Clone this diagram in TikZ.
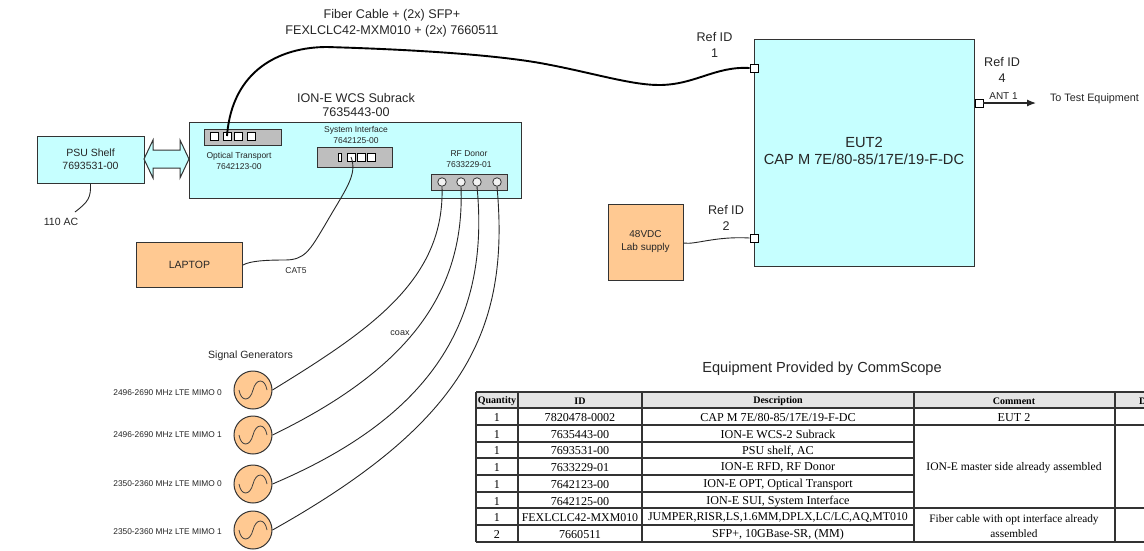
\documentclass[tikz,border=0pt]{standalone}
\usepackage{fontspec}
\setmainfont{Liberation Sans}
\newfontfamily\tabfont{Liberation Serif}
\usepackage{xcolor}
\usepackage{tikz}
\usetikzlibrary{arrows.meta}
\definecolor{unitcyan}{HTML}{C6FFFF}
\definecolor{supplyorange}{HTML}{FFC992}
\definecolor{cardgray}{HTML}{BEBEBE}
\definecolor{headgray}{HTML}{E4E4E4}
\newcommand{\txt}[1]{\fontsize{#1}{#1}\selectfont}
\tikzset{
  thunit/.style={fill=unitcyan, draw=black!80, line width=1pt},
  thsupply/.style={fill=supplyorange, draw=black!80, line width=1pt},
  thcard/.style={fill=cardgray, draw=black!80, line width=1pt},
  thport/.style={fill=white, draw=black, line width=0.8pt, minimum size=8pt, inner sep=0pt},
  thjack/.style={circle, fill=white!80!cardgray, draw=black!80, line width=0.8pt, minimum size=8.5pt, inner sep=0pt},
  thgen/.style={circle, fill=supplyorange, draw=black!80, line width=1pt, minimum size=38pt, inner sep=0pt},
  thwave/.style={line width=0.8pt, draw=black!75},
  thfiber/.style={line width=1.9pt, draw=black},
  thcable/.style={line width=0.9pt, draw=black!85},
  thrule/.style={line width=1.2pt, draw=black!80},
  thlabel/.style={inner sep=0pt, align=center, text=black!85, font=\txt{12.6}},
  thsmall/.style={inner sep=0pt, align=center, text=black!85, font=\txt{8.5}},
  thcell/.style={inner sep=0pt, yshift=-0.8pt, align=center, text=black, font=\tabfont\txt{12.1}},
  thhead/.style={inner sep=0pt, yshift=-0.8pt, align=center, text=black, font=\tabfont\bfseries\txt{10}},
}
\begin{document}
\begin{tikzpicture}[x=1pt,y=-1pt]
\clip (0,0) rectangle (1144,550);
\fill[white] (0,0) rectangle (1144,550);
% boxes
\node[thunit, minimum width=107pt, minimum height=47pt, inner sep=0pt] (psu) at (90.5,160) {};
\node[thunit, minimum width=332pt, minimum height=76pt, inner sep=0pt] (subrack) at (355,160) {};
\node[thunit, minimum width=220pt, minimum height=227pt, inner sep=0pt] (eut) at (864,152.5) {};
\node[thsupply, minimum width=106pt, minimum height=45pt, inner sep=0pt] (laptop) at (189.5,265) {};
\node[thsupply, minimum width=75pt, minimum height=76pt, inner sep=0pt] (lab) at (645.5,242) {};
\node[thlabel, font=\txt{10.5}] at (90.5,159) {PSU Shelf\\[2pt]7693531-00};
\node[thlabel, font=\txt{10.5}] at (laptop) {LAPTOP};
\node[thlabel, font=\txt{10}] at (lab) {48VDC\\[3pt]Lab supply};
\node[thlabel, font=\txt{14.65}] at (864,151) {EUT2\\[2pt]CAP M 7E/80-85/17E/19-F-DC};
% power arrow
\draw[thunit] (144,159) -- (153,140) -- (153,150) -- (180,150) -- (180,140) -- (189,159)
  -- (180,178) -- (180,168) -- (153,168) -- (153,178) -- cycle;
% cards
\node[thcard, minimum width=77pt, minimum height=16pt, inner sep=0pt] (optcard) at (242.5,137) {};
\node[thcard, minimum width=75pt, minimum height=20pt, inner sep=0pt] (suicard) at (354.5,157) {};
\node[thcard, minimum width=76pt, minimum height=16pt, inner sep=0pt] (rfcard) at (469,182) {};
\node[thport] (opt1) at (214,136) {};
\node[thport] (opt2) at (227,136) {};
\node[thport] (opt3) at (238,136) {};
\node[thport] (opt4) at (251,136) {};
\node[thport, minimum width=3pt, minimum height=8pt] (sui0) at (340,157) {};
\node[thport] (sui1) at (351,157) {};
\node[thport] (sui2) at (361,157) {};
\node[thport] (sui3) at (371,157) {};
\node[thjack] (rf1) at (442,182) {};
\node[thjack] (rf2) at (461,182) {};
\node[thjack] (rf3) at (477,182) {};
\node[thjack] (rf4) at (497,182) {};
\node[thport] (eutfiber) at (754,68) {};
\node[thport] (eutdc) at (754,238) {};
\node[thport] (eutant) at (979,103) {};
% card labels
\node[thsmall] at (239,161) {Optical Transport\\[2pt]7642123-00};
\node[thsmall] at (356,135) {System Interface\\[2pt]7642125-00};
\node[thsmall] at (469,159) {RF Donor\\[2pt]7633229-01};
\node[thlabel] at (356,105) {ION-E WCS Subrack\\[2pt]7635443-00};
\node[thlabel] at (392,23.5) {Fiber Cable + (2x) SFP+\\[3pt]FEXLCLC42-MXM010 + (2x) 7660511};
\node[thlabel] at (714.5,45) {Ref ID\\[3pt]1};
\node[thlabel] at (726,218) {Ref ID\\[3pt]2};
\node[thlabel] at (1002,70) {Ref ID\\[3pt]4};
\node[thsmall, font=\txt{10}] at (1003.5,96) {ANT 1};
\node[thsmall, font=\txt{10.8}] (testeq) at (1094.5,99) {To Test Equipment};
\node[thsmall, font=\txt{10.5}] (acnode) at (61,222) {110 AC};
\node[thsmall, font=\txt{8.5}] at (296,271) {CAT5};
\node[thsmall, font=\txt{9}] at (400,333) {coax};
% cables
\coordinate (acend) at (75,212);
\coordinate (antend) at (1036,103);
\draw[thcable] (psu.south) .. controls (91,198) and (88,202) .. (acend);
\draw[thfiber] (opt2.center) .. controls (232,70) and (280,47) .. (327,47)
  .. controls (430,50) and (500,56) .. (540,63)
  .. controls (590,72) and (630,85) .. (659,85)
  .. controls (695,85) and (715,66) .. (eutfiber.west);
\draw[thcable] (sui1.center) .. controls (358,175) and (345,190) .. (325,225)
  .. controls (310,250) and (305,260) .. (285,260)
  .. controls (265,260) and (250,261) .. (laptop.east);
\draw[thcable] ([yshift=-1pt]lab.east) .. controls (695,245) and (715,236) .. (eutdc.west);
\draw[thcable, line width=1.2pt, -{Latex[length=9pt,width=7pt]}] (eutant.east) -- (antend);
% signal generators
\node[thsmall, font=\txt{10.5}] at (250.5,356) {Signal Generators};
\node[thgen] (gen1) at (253,390) {};
\node[thgen] (gen2) at (253,435) {};
\node[thgen] (gen3) at (253,484) {};
\node[thgen] (gen4) at (253,530) {};
\foreach \g in {gen1,gen2,gen3,gen4}
  \draw[thwave] ([xshift=-14pt]\g.center) .. controls +(2,12) and +(-3,12) .. (\g.center)
    .. controls +(3,-12) and +(-2,-12) .. ([xshift=14pt]\g.center);
\node[thsmall, font=\txt{8.35}, anchor=east] at (222,393) {2496-2690 MHz LTE MIMO 0};
\node[thsmall, font=\txt{8.35}, anchor=east] at (222,435) {2496-2690 MHz LTE MIMO 1};
\node[thsmall, font=\txt{8.35}, anchor=east] at (222,484) {2350-2360 MHz LTE MIMO 0};
\node[thsmall, font=\txt{8.35}, anchor=east] at (222,532) {2350-2360 MHz LTE MIMO 1};
\draw[thcable] (rf1.south) .. controls (445,280) and (370,330) .. (gen1.east);
\draw[thcable] (rf2.south) .. controls (465,290) and (411,368) .. (gen2.east);
\draw[thcable] (rf3.south) .. controls (490,320) and (433,416) .. (gen3.east);
\draw[thcable] (rf4.south) .. controls (510,330) and (465,422) .. (gen4.east);
% table
\node[thlabel, font=\txt{14.6}] at (822,369) {Equipment Provided by CommScope};
\fill[headgray] (476,392) rectangle (1144,408);
\foreach \yy in {392,408,425,508,542}
  \draw[thrule] (476,\yy) -- (1144,\yy);
\foreach \yy in {442,458,475,492,525}
  \draw[thrule] (476,\yy) -- (914,\yy);
\foreach \xx in {476,518,642,914,1115}
  \draw[thrule] (\xx,392) -- (\xx,542);
\node[thhead] at (497,400) {Quantity};
\node[thhead] at (580,400) {ID};
\node[thhead] at (778,400) {Description};
\node[thhead] at (1014,400) {Comment};
\node[thhead, anchor=west] at (1139,400) {D};
\node[thcell] at (497,417) {1};
\node[thcell] at (580,417) {7820478-0002};
\node[thcell] at (778,417) {CAP M 7E/80-85/17E/19-F-DC};
\node[thcell] at (1014,417) {EUT 2};
\node[thcell] at (497,434) {1};
\node[thcell] at (580,434) {7635443-00};
\node[thcell] at (778,434) {ION-E WCS-2 Subrack};
\node[thcell] at (497,450) {1};
\node[thcell] at (580,450) {7693531-00};
\node[thcell] at (778,450) {PSU shelf, AC};
\node[thcell] at (497,467) {1};
\node[thcell] at (580,467) {7633229-01};
\node[thcell] at (778,467) {ION-E RFD, RF Donor};
\node[thcell] at (497,484) {1};
\node[thcell] at (580,484) {7642123-00};
\node[thcell] at (778,484) {ION-E OPT, Optical Transport};
\node[thcell] at (497,501) {1};
\node[thcell] at (580,501) {7642125-00};
\node[thcell] at (778,501) {ION-E SUI, System Interface};
\node[thcell] at (497,517) {1};
\node[thcell, font=\tabfont\txt{11.9}] at (580,517) {FEXLCLC42-MXM010};
\node[thcell, font=\tabfont\txt{11.87}] at (778,517) {JUMPER,RISR,LS,1.6MM,DPLX,LC/LC,AQ,MT010};
\node[thcell] at (497,534) {2};
\node[thcell] at (580,534) {7660511};
\node[thcell] at (778,534) {SFP+, 10GBase-SR, (MM)};
\node[thcell, font=\tabfont\txt{11.6}] at (1014,467) {ION-E master side already assembled};
\node[thcell, font=\tabfont\txt{11.3}] at (1014,525.5) {Fiber cable with opt interface already\\[4pt]assembled};
\end{tikzpicture}
\end{document}
